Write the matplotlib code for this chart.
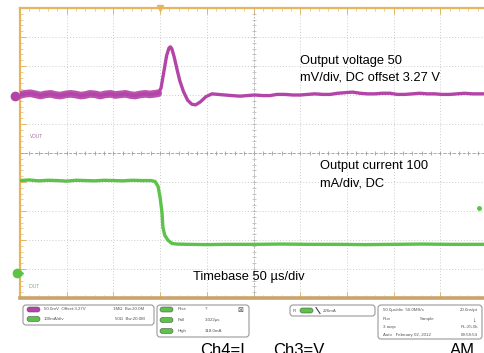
import numpy as np
import matplotlib
matplotlib.use("Agg")
import matplotlib.pyplot as plt
import matplotlib.transforms as mtransforms
from matplotlib.patches import FancyBboxPatch

plt.rcParams['font.family'] = ['Liberation Sans', 'DejaVu Sans']

# scope settings
time_per_div = 50      # us/div
volt_per_div = 50      # mV/div
amp_per_div = 100      # mA/div
volt_pos = 2.0         # div, where the VOUT reference sits
amp_pos = -4.15        # div, where the IOUT ground marker sits
trigger_time = 150     # us
trigger_level = 226    # mA

# output voltage, mV deviation from the 3.27 V offset
v_time = [0, 5, 11, 17, 22, 27, 33, 38, 43, 49, 54, 59, 65, 70, 75, 81, 86, 91,
          97, 102, 107, 113, 118, 123, 129, 134, 139, 144, 148,
          151, 154, 157, 159.5, 161, 162.5, 165, 168, 171, 175, 179.5, 184,
          188, 193, 199, 205.6, 212, 219.5, 227, 235.5, 243, 251.6, 260,
          267.7, 275, 283.7, 292, 299.8, 308, 315.8, 324, 331.9, 340, 348,
          356, 364, 372, 380, 388, 396, 404, 412, 420, 428, 436, 444, 452,
          460, 468, 476, 484, 492, 500]
v_mv = [0, 2, 3, 1, -1, 1, 2, 0, -1, 1, 2, 1, -1, 0, 2, 1, -1, 1,
        2, 0, 1, 2, 0, -1, 1, 2, 1, 2, 3,
        12, 40, 68, 81, 83, 80, 66, 45, 25, 6, -9, -16,
        -17, -12, -3, 2, 1, 0, -1, -2, -1, 0, -1,
        -1, 1, 1, 0, 0, 1, 2, 1, 1, 3, 4,
        5, 3, 2, 2, 3, 3, 1, 1, 2, 3, 2, 2, 1,
        1, 2, 3, 2, 2, 2]

# output current, mA
i_time = [0, 10, 20, 30, 40, 50, 60, 70, 80, 90, 100, 110, 120, 130, 140,
          144.5, 147.8, 150, 152, 153, 155, 158.5, 162.7, 168, 180, 200,
          220, 250, 280, 310, 340, 370, 400, 430, 460, 500]
i_ma = [320, 322, 319, 321, 320, 318, 321, 320, 319, 321, 320, 319, 321, 320, 320,
        317, 300, 262, 210, 159, 131, 114, 103, 101, 100, 99,
        100, 100, 101, 100, 100, 99, 100, 101, 100, 100]

magenta = '#b445a8'
green = '#5cc24a'
orange = '#e6b65e'

fig = plt.figure(figsize=(4.84, 3.53), dpi=100)
W, H = 484, 353
pos = [20 / W, 1 - 298 / H, 467 / W, 290 / H]

ax = fig.add_axes(pos)
ax.set_xlim(0, 10 * time_per_div)
ax.set_ylim(-5, 5)
ax.set_xticks(np.arange(0, 501, time_per_div))
ax.set_xticks(np.arange(0, 501, 10), minor=True)
ax.set_yticks(np.arange(-5, 6, 1))
ax.set_yticks(np.arange(-5, 5.01, 0.2), minor=True)
ax.tick_params(which='both', direction='in', colors=orange, labelleft=False,
               labelbottom=False, top=True, bottom=True, left=True, right=False)
ax.tick_params(which='major', length=4, width=0.7)
ax.tick_params(which='minor', length=2, width=0.5)
ax.grid(which='major', color='#cccccc', ls=(0, (1, 2)), lw=0.7)
for s in ['left', 'top']:
    ax.spines[s].set_color(orange)
    ax.spines[s].set_linewidth(1.6)
ax.spines['bottom'].set_color('#c9a46a')
ax.spines['bottom'].set_linewidth(2.6)
ax.spines['right'].set_visible(False)

# centre cross with its little ticks
ax.axhline(0, color='#a8a8a8', lw=0.7, ls=(0, (3, 2)))
ax.axvline(250, color='#b4b4b4', lw=0.6, ls=(0, (2, 2)))
ax.plot(np.arange(0, 501, 10), np.zeros(51), ls='none', marker='|', ms=3,
        mew=0.6, color='#a0a0a0')
ax.plot(np.full(51, 250), np.arange(-5, 5.01, 0.2), ls='none', marker='_', ms=3,
        mew=0.5, color='#b0b0b0')

# trigger position marker
ax.plot([trigger_time], [5], marker='v', ms=4, color=orange, clip_on=False)

# voltage channel
axv = fig.add_axes(pos, sharex=ax)
axv.set_ylim((-5 - volt_pos) * volt_per_div, (5 - volt_pos) * volt_per_div)
axv.axis('off')
vt = np.array(v_time)
vv = np.array(v_mv)
axv.plot(vt, vv, color=magenta, lw=2.4, solid_capstyle='round')
axv.plot(vt[vt <= 148], vv[vt <= 148], color=magenta, lw=5.5, alpha=0.92,
         solid_capstyle='round')

# current channel
axi = fig.add_axes(pos, sharex=ax)
axi.set_ylim((-5 - amp_pos) * amp_per_div, (5 - amp_pos) * amp_per_div)
axi.axis('off')
axi.plot(i_time, i_ma, color=green, lw=2.4)
tr = mtransforms.blended_transform_factory(axi.transAxes, axi.transData)
axi.plot([0.983], [trigger_level], transform=tr, marker='o', ms=2.5,
         color=green, clip_on=False)

# overlay in pixel coordinates for labels and the status bar
ov = fig.add_axes([0, 0, 1, 1])
ov.set_xlim(0, W)
ov.set_ylim(H, 0)
ov.axis('off')
ov.patch.set_alpha(0)

ov.plot([15], [96], marker='o', ms=6, color=magenta)
ov.plot([17], [273], marker='o', ms=6, color=green)
ov.plot([21], [273], marker='>', ms=3, color=green)
ov.text(30, 137, 'VOUT', fontsize=3.3, color='#9a6a98', va='center')
ov.text(29, 287, 'IOUT', fontsize=3.3, color='#7aa872', va='center')

ov.text(300, 61, 'Output voltage 50', fontsize=9.3, va='center')
ov.text(300, 77, 'mV/div, DC offset 3.27 V', fontsize=9.3, va='center')
ov.text(320, 166, 'Output current 100', fontsize=9.3, va='center')
ov.text(320, 183, 'mA/div, DC', fontsize=9.3, va='center')
ov.text(193, 277, 'Timebase 50 \u00b5s/div', fontsize=9.3, va='center')


def box(x0, y0, x1, y1):
    ov.add_patch(FancyBboxPatch((x0, y0), x1 - x0, y1 - y0,
                                boxstyle='round,pad=0,rounding_size=3',
                                fc='white', ec='#9a9a9a', lw=0.8))


def pill(x, y, col):
    ov.add_patch(FancyBboxPatch((x, y - 2.5), 13, 5,
                                boxstyle='round,pad=0,rounding_size=2.5',
                                fc=col, ec='#555555', lw=0.4))


def small(x, y, s, ha='left'):
    ov.text(x, y, s, fontsize=3.2, color='#555555', va='center', ha=ha)


box(23, 305, 154, 325)
pill(27, 309.5, magenta)
pill(27, 319, green)
small(44, 309.5, '50.0mV  Offset:3.27V')
small(113, 309.5, '1M\u03a9  Bw:20.0M')
small(44, 319, '100mA/div')
small(115, 319, '50\u03a9  Bw:20.0M')

box(157, 305, 249, 337)
pill(160, 309.5, green)
pill(160, 320, green)
pill(160, 331, green)
small(178, 309.5, 'Rise')
small(205, 309.5, '?')
small(178, 320, 'Fall')
small(205, 320, '3.022\u00b5s')
small(178, 331, 'High')
small(205, 331, '318.0mA')
ov.text(240, 310, '\u22a0', fontsize=5, color='#555555', va='center', ha='center')

box(290, 305, 375, 316)
small(293, 310.5, 'R')
pill(300, 310.5, green)
ov.plot([316, 320], [307.5, 313.5], color='#444444', lw=0.8)
small(323, 310.5, '226mA')

box(378, 305, 482, 339)
small(383, 309.5, '50.0\u00b5s/div  50.0MS/s')
small(478, 309.5, '20.0ns/pt', ha='right')
small(383, 319, 'Run')
small(420, 319, 'Sample')
ov.text(474, 320, '\u2193', fontsize=5, color='#333333', va='center', ha='center')
small(383, 327, '3 acqs')
small(478, 327, 'RL:25.0k', ha='right')
small(383, 335, 'Auto   February 02, 2012')
small(478, 335, '09:58:54', ha='right')

# caption cut off by the bottom edge, as in the source picture
ov.text(200, 343, 'Ch4=I', fontsize=12, va='top')
ov.text(273, 343, 'Ch3=V', fontsize=12, va='top')
ov.text(450, 343, 'AM', fontsize=12, va='top')

fig.savefig('out.png', dpi=100)
